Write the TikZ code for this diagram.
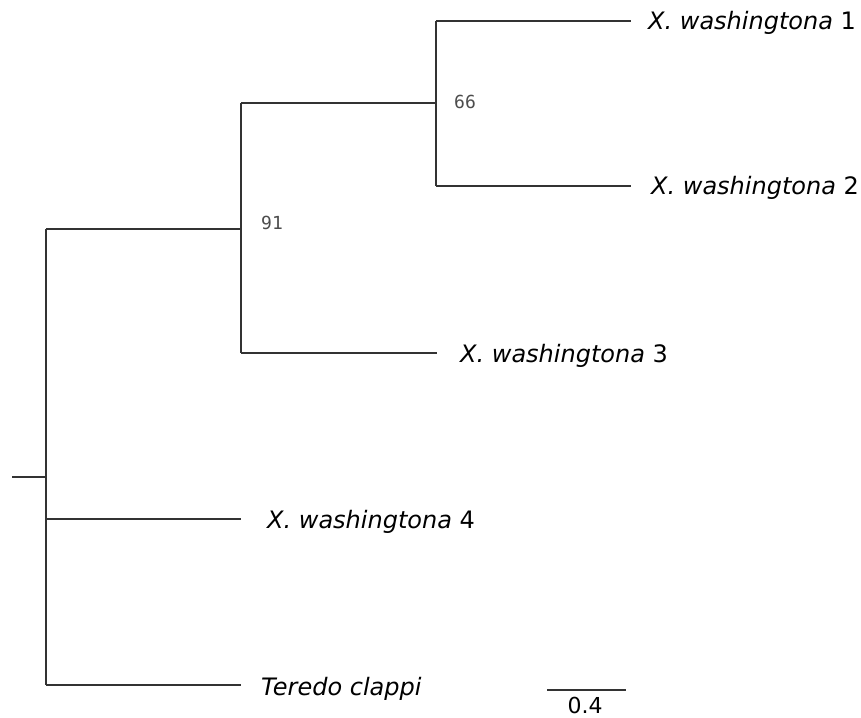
\documentclass[tikz,border=0pt]{standalone}
\usepackage{fontspec}
\setmainfont{DejaVu Sans}
\setmonofont{DejaVu Sans Mono}
\begin{document}
\begin{tikzpicture}[x=1pt,y=-1pt,
  branch/.style={draw=black!80, line width=1.3pt},
  taxon/.style={anchor=base west, inner sep=0pt, font=\fontsize{24}{24}\selectfont},
  support/.style={anchor=base west, inner sep=0pt, text=black!70, font=\ttfamily\fontsize{18}{18}\selectfont},
  scalelbl/.style={anchor=base, inner sep=0pt, font=\fontsize{22}{22}\selectfont}]
  \useasboundingbox (0,0) rectangle (861,717);

  % root and its children
  \coordinate (r0) at (12,477);
  \coordinate (r)  at (46,477);
  \coordinate (rt) at (46,229);
  \coordinate (r4) at (46,519);
  \coordinate (rb) at (46,685);
  % clade with support 91
  \coordinate (b)  at (241,229);
  \coordinate (bt) at (241,103);
  \coordinate (bb) at (241,353);
  % clade with support 66
  \coordinate (c)  at (436,103);
  \coordinate (ct) at (436,21);
  \coordinate (cb) at (436,186);
  % tips
  \coordinate (t1) at (631,21);
  \coordinate (t2) at (631,186);
  \coordinate (t3) at (437,353);
  \coordinate (t4) at (241,519);
  \coordinate (t5) at (241,685);

  % branches
  \draw[branch] (r0) -- (r);
  \draw[branch] (rt) -- (rb);
  \draw[branch] (rt) -- (b);
  \draw[branch] (bt) -- (bb);
  \draw[branch] (bt) -- (c);
  \draw[branch] (ct) -- (cb);
  \draw[branch] (ct) -- (t1);
  \draw[branch] (cb) -- (t2);
  \draw[branch] (bb) -- (t3);
  \draw[branch] (r4) -- (t4);
  \draw[branch] (rb) -- (t5);

  % taxon names
  \node[taxon] (x1) at (648,30)  {\textit{X. washingtona} 1};
  \node[taxon] (x2) at (651,194) {\textit{X. washingtona} 2};
  \node[taxon] (x3) at (460,362) {\textit{X. washingtona} 3};
  \node[taxon] (x4) at (267,528) {\textit{X. washingtona} 4};
  \node[taxon] (tc) at (261,695) {\textit{Teredo clappi}};

  % bootstrap values
  \node[support] (s66) at (454,108) {66};
  \node[support] (s91) at (261,229) {91};

  % scale bar
  \coordinate (sb1) at (547,690);
  \coordinate (sb2) at (626,690);
  \draw[branch, line width=1.1pt] (sb1) -- (sb2);
  \node[scalelbl] (sbl) at (585,713) {0.4};
\end{tikzpicture}
\end{document}
